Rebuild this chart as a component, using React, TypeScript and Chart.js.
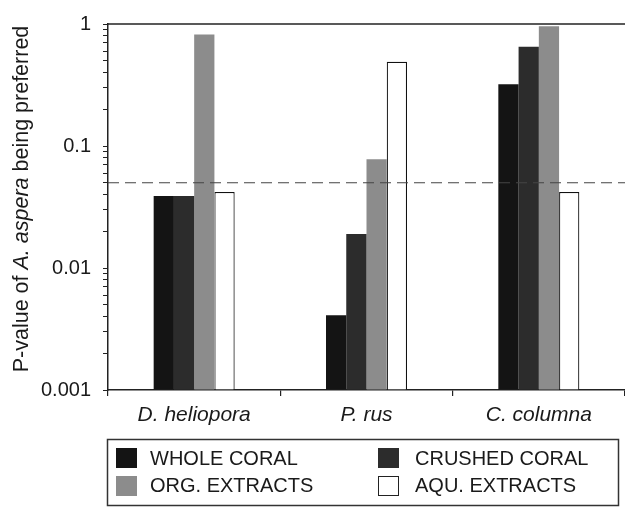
import React, { useEffect, useRef } from "react";
import { Chart, registerables } from "chart.js";

Chart.register(...registerables);

const CATEGORIES = ["D. heliopora", "P. rus", "C. columna"];
const SERIES_NAMES = ["WHOLE CORAL", "CRUSHED CORAL", "ORG. EXTRACTS", "AQU. EXTRACTS"];
const WHOLE_CORAL = [0.039, 0.0041, 0.32];
const CRUSHED_CORAL = [0.039, 0.019, 0.65];
const ORG_EXTRACTS = [0.82, 0.078, 0.96];
const AQU_EXTRACTS = [0.042, 0.49, 0.042];
const THRESHOLD = 0.05;
const Y_MIN = 0.001;
const Y_MAX = 1;
const Y_TICK_LABELS = ["0.001", "0.01", "0.1", "1"];

const FONT = "'Liberation Sans', Arial, Helvetica, sans-serif";
const INK = "#1a1a1a";

const decorPlugin = {
  id: "decor",
  afterDraw(chart: any) {
    const { ctx, chartArea } = chart;
    const y = chart.scales.y;
    ctx.save();
    // top frame line
    ctx.strokeStyle = "#222";
    ctx.lineWidth = 1.5;
    ctx.beginPath();
    ctx.moveTo(chartArea.left, chartArea.top);
    ctx.lineTo(chartArea.right, chartArea.top);
    ctx.stroke();
    // threshold dashed line
    const ty = y.getPixelForValue(THRESHOLD);
    ctx.strokeStyle = "#444";
    ctx.lineWidth = 1.2;
    ctx.setLineDash([11, 6]);
    ctx.beginPath();
    ctx.moveTo(chartArea.left, ty);
    ctx.lineTo(chartArea.right, ty);
    ctx.stroke();
    ctx.setLineDash([]);

    // y axis title with italic species name
    const parts: [string, boolean][] = [
      ["P-value of ", false],
      ["A. aspera", true],
      [" being preferred", false],
    ];
    const size = 21.5;
    const fontFor = (it: boolean) => `${it ? "italic " : ""}${size}px ${FONT}`;
    let total = 0;
    for (const [t, it] of parts) {
      ctx.font = fontFor(it);
      total += ctx.measureText(t).width;
    }
    const cy = 199;
    ctx.translate(22, cy);
    ctx.rotate(-Math.PI / 2);
    ctx.fillStyle = INK;
    ctx.textBaseline = "middle";
    ctx.textAlign = "left";
    let x = -total / 2;
    for (const [t, it] of parts) {
      ctx.font = fontFor(it);
      ctx.fillText(t, x, 0);
      x += ctx.measureText(t).width;
    }
    ctx.setTransform(1, 0, 0, 1, 0, 0);

    // legend box
    ctx.strokeStyle = "#333";
    ctx.lineWidth = 1.5;
    ctx.strokeRect(107.5, 439.5, 511, 66);
    const swX = [116, 378];
    const swY = [448, 476];
    const txX = [150, 415];
    const txY = [459, 486];
    ctx.font = `20px ${FONT}`;
    ctx.textBaseline = "middle";
    ctx.textAlign = "left";
    chart.data.datasets.forEach((ds: any, i: number) => {
      const col = i % 2;
      const row = Math.floor(i / 2);
      ctx.fillStyle = ds.backgroundColor;
      ctx.fillRect(swX[col], swY[row], 21, 20);
      if (ds.borderWidth) {
        ctx.strokeStyle = "#222";
        ctx.lineWidth = 1;
        ctx.strokeRect(swX[col] + 0.5, swY[row] + 0.5, 20, 19);
      }
      ctx.fillStyle = INK;
      ctx.fillText(ds.label, txX[col], txY[row]);
    });
    ctx.restore();
  },
};

export default function App() {
  const ref = useRef<HTMLCanvasElement>(null);
  useEffect(() => {
    if (!ref.current) return;
    const values = [WHOLE_CORAL, CRUSHED_CORAL, ORG_EXTRACTS, AQU_EXTRACTS];
    const colors = ["#141414", "#2c2c2c", "#8c8c8c", "#ffffff"];
    const chart = new Chart(ref.current, {
      type: "bar",
      data: {
        labels: CATEGORIES,
        datasets: SERIES_NAMES.map((name, i) => ({
          label: name,
          data: values[i],
          backgroundColor: colors[i],
          borderColor: "#111",
          borderWidth: i === 3 ? 1.2 : 0,
          borderSkipped: "bottom",
          base: Y_MIN,
          categoryPercentage: 0.47,
          barPercentage: 1,
        })),
      },
      options: {
        animation: false,
        responsive: false,
        maintainAspectRatio: false,
        layout: { padding: { top: 16, left: 0, right: 0, bottom: 0 } },
        plugins: { legend: { display: false }, tooltip: { enabled: false } },
        scales: {
          x: {
            type: "category",
            afterFit: (s: any) => {
              s.height = 117;
            },
            grid: {
              offset: true,
              drawOnChartArea: false,
              tickLength: 6,
              color: "#222",
              lineWidth: 1.2,
            },
            border: { display: true, color: "#222", width: 1.5 },
            ticks: {
              color: INK,
              padding: 7,
              font: { family: FONT, size: 21, style: "italic" },
            },
          },
          y: {
            type: "logarithmic",
            min: Y_MIN,
            max: Y_MAX,
            afterFit: (s: any) => {
              s.width = 108;
            },
            afterBuildTicks: (s: any) => {
              const ticks: { value: number }[] = [];
              for (let e = -3; e < 0; e++) {
                for (let m = 1; m < 10; m++) {
                  ticks.push({ value: Number((m * Math.pow(10, e)).toPrecision(3)) });
                }
              }
              ticks.push({ value: 1 });
              s.ticks = ticks;
            },
            grid: {
              drawOnChartArea: false,
              tickLength: 5,
              color: "#222",
              lineWidth: 1,
            },
            border: { display: true, color: "#222", width: 1.5 },
            ticks: {
              autoSkip: false,
              color: INK,
              padding: 12,
              font: { family: FONT, size: 20 },
              callback: (v: any) => {
                const lg = Math.log10(Number(v));
                if (Math.abs(lg - Math.round(lg)) < 1e-9) {
                  return Y_TICK_LABELS[Math.round(lg) + 3];
                }
                return "";
              },
            },
          },
        },
      },
      plugins: [decorPlugin],
    });
    return () => chart.destroy();
  }, []);
  return (
    <div style={{ position: "fixed", left: 0, top: 0, width: 625, height: 507, background: "#fff" }}>
      <canvas ref={ref} width={625} height={507} />
    </div>
  );
}
